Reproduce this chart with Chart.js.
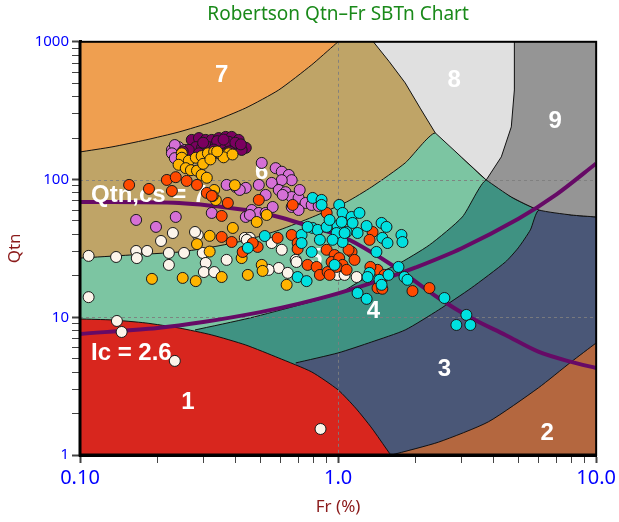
<!DOCTYPE html>
<html>
<head>
<meta charset="utf-8">
<title>SBTn chart</title>
<script src="https://cdn.jsdelivr.net/npm/chart.js@4.4.1/dist/chart.umd.min.js"></script>
<style>
  html, body { margin: 0; padding: 0; background: #fff; }
  #wrap { width: 619px; height: 522px; }
</style>
</head>
<body>
<div id="wrap"><canvas id="sbt-chart" width="619" height="522"></canvas></div>
<script>
// axis ticks
const xTickValues = [0.1, 1, 10];
const xTickLabels = ['0.10', '1.0', '10.0'];
const yTickValues = [1, 10, 100, 1000];
const yTickLabels = ['1', '10', '100', '1000'];

// zone boundaries, each point is [Fr, Qtn]
const zone1Top = [[0.1, 9.72], [0.133, 9.56], [0.18, 9.09], [0.242, 8.36], [0.324, 7.44], [0.439, 6.29], [0.589, 5.06], [0.79, 4.01], [1.0, 2.97], [1.17, 2.19], [1.35, 1.57], [1.57, 1.05], [1.6, 1.0]];
const zone2Top = [[1.61, 1.0], [2.45, 1.24], [3.82, 1.74], [5.97, 3.07], [8.0, 4.74], [10, 6.51]];
const zone3Top = [[0.685, 4.66], [1.0, 5.51], [1.35, 6.62], [1.82, 8.09], [2.45, 11.3], [3.28, 16.3], [4.45, 25.2], [4.99, 31.9], [5.56, 43.1], [6.0, 60.1], [8.0, 55.3], [10, 53.5]];
const zone4Top = [[0.279, 8.09], [0.455, 9.88], [0.71, 12.3], [1.0, 14.8], [1.244, 18.7], [1.684, 24.0], [2.26, 33.5], [3.03, 53.5], [3.75, 99.3], [4.69, 74.7], [6.0, 60.1], [8.0, 55.3], [10, 53.5]];
const zone5Top = [[0.1, 26.9], [0.156, 28.3], [0.244, 29.8], [0.327, 32.4], [0.443, 36.4], [0.594, 43.1], [0.797, 53.5], [1.08, 68.8], [1.35, 88.4], [1.82, 132], [2.38, 218], [3.0, 146], [3.75, 99.3], [4.69, 74.7], [6.0, 60.1], [8.0, 55.3], [10, 53.5]];
const zone7Bottom = [[0.1, 158.6], [0.133, 172.5], [0.18, 193.9], [0.242, 221.6], [0.324, 262], [0.439, 331], [0.589, 447], [0.79, 680], [0.978, 965], [1.0, 1000]];
const zone8Bottom = [[1.37, 1000], [1.578, 718], [1.82, 503], [2.08, 330], [2.38, 218], [3.0, 146], [3.75, 99.3], [4.29, 146], [4.69, 241], [4.82, 447], [4.82, 1000]];
const zone9Bottom = [[3.75, 99.3], [4.69, 74.7], [6.0, 60.1], [8.0, 55.3], [10, 53.5]];

// reference curves
const ic26Line = [[0.1, 7.57], [0.2, 8.37], [0.3, 9.23], [0.5, 10.9], [0.7, 12.5], [1, 14.9], [1.5, 18.9], [2, 23.0], [3, 31.6], [5, 52.0], [7, 77.7], [10, 130.8]];
const qtncs70Line = [[0.1, 68.8], [0.242, 67.6], [0.439, 60.1], [0.589, 53.5], [0.79, 45.3], [1.0, 39.6], [1.244, 32.4], [1.684, 22.8], [2.45, 13.8], [3.28, 9.88], [4.45, 7.44], [6.0, 5.6], [8.0, 4.74], [10, 4.28]];

// CPT data, [Fr, Qtn]
const whitePts = [[0.108, 27.9], [0.138, 27.4], [0.165, 30.3], [0.166, 26.9], [0.182, 30.3], [0.206, 35.8], [0.229, 40.9], [0.221, 29.3], [0.221, 24.0], [0.253, 29.3], [0.286, 39.6], [0.279, 41.6], [0.299, 29.3], [0.307, 24.8], [0.302, 21.3], [0.331, 21.3], [0.370, 26.1], [0.435, 37.7], [0.455, 37.7], [0.553, 34.6], [0.605, 30.9], [0.589, 22.8], [0.638, 21.0], [0.685, 26.1], [0.538, 22.1], [0.995, 20.3], [1.06, 20.3], [1.18, 19.6], [0.108, 14.0], [0.139, 9.4], [0.145, 7.82], [0.233, 4.82], [0.855, 1.545], [0.443, 36.5], [0.69, 25.2]];
const orchidPts = [[0.227, 164], [0.241, 172], [0.235, 146], [0.233, 178], [0.227, 155], [0.233, 143], [0.255, 164], [0.506, 132], [0.573, 121], [0.605, 114], [0.644, 108], [0.661, 99], [0.605, 99], [0.553, 94.5], [0.589, 84], [0.626, 81], [0.661, 74.7], [0.703, 73.5], [0.748, 67.6], [0.790, 65.4], [0.841, 64.3], [0.401, 88.4], [0.439, 87], [0.493, 91.4], [0.524, 77.3], [0.463, 60.1], [0.439, 53.5], [0.493, 57.2], [0.324, 57.2], [0.235, 53.5], [0.165, 50.9], [0.197, 45.3], [0.524, 57.2], [0.661, 63.2], [0.703, 60.1], [0.370, 91.4], [0.558, 63.2], [0.455, 55.3], [0.416, 84], [0.610, 77.3], [0.71, 84]];
const purplePts = [[0.271, 194], [0.289, 200], [0.307, 194], [0.324, 194], [0.345, 200], [0.367, 204], [0.387, 204], [0.412, 194], [0.439, 170], [0.281, 172], [0.297, 170], [0.315, 172], [0.336, 178], [0.354, 184], [0.377, 188], [0.400, 172], [0.423, 164], [0.264, 164], [0.289, 155], [0.324, 150], [0.367, 155], [0.25, 160], [0.34, 190], [0.36, 195], [0.30, 185], [0.33, 165], [0.40, 185], [0.42, 180], [0.38, 160]];
const goldPts = [[0.248, 155], [0.248, 144], [0.264, 137], [0.281, 144], [0.296, 148], [0.313, 155], [0.331, 159], [0.354, 150], [0.377, 155], [0.241, 128], [0.257, 121], [0.269, 117], [0.284, 116], [0.296, 108], [0.310, 103], [0.398, 91], [0.331, 84], [0.336, 71], [0.327, 76], [0.318, 39], [0.284, 34], [0.318, 30], [0.190, 19], [0.250, 19.3], [0.281, 18.3], [0.354, 19.6], [0.447, 20.3], [0.506, 24], [0.510, 21.7], [0.632, 17.2], [0.423, 26.9], [0.484, 49.2], [0.529, 55.3], [0.391, 44.5], [0.30, 130], [0.32, 140], [0.36, 145], [0.34, 160], [0.39, 152]];
const orangePts = [[0.155, 91.4], [0.185, 85.5], [0.217, 99.3], [0.235, 104], [0.259, 97.7], [0.284, 91.4], [0.227, 82.6], [0.310, 80], [0.324, 76], [0.374, 67.6], [0.354, 54.4], [0.493, 71.1], [0.667, 65.4], [0.903, 57.2], [0.354, 38.3], [0.387, 35.2], [0.488, 32.4], [0.427, 29.8], [0.467, 34.6], [0.583, 37.7], [0.661, 39.6], [0.697, 34.6], [0.697, 31.3], [0.903, 30.9], [0.969, 28.3], [0.944, 25.2], [1.01, 26.9], [1.041, 24.0], [0.762, 24.0], [0.826, 23.2], [0.85, 20.3], [0.911, 21.3], [0.987, 23.2], [1.079, 22.1], [1.128, 29.8], [1.158, 26.1], [1.36, 41.6], [1.324, 36.5], [1.422, 22.1], [1.474, 18.7], [1.422, 16.3], [1.484, 16.1], [1.942, 15.5], [2.259, 16.3], [1.098, 30.9], [1.334, 23.2], [1.513, 20.3], [0.927, 20.3]];
const cyanPts = [[0.797, 73.5], [0.863, 71.1], [0.863, 65.4], [1.01, 65.4], [1.041, 57.2], [1.128, 53.5], [1.21, 57.2], [1.138, 48.4], [1.29, 46.0], [1.474, 48.4], [1.54, 45.3], [1.484, 37.7], [1.554, 34.6], [1.76, 39.6], [1.776, 35.2], [1.408, 29.8], [0.797, 44.5], [0.833, 43.1], [0.903, 45.3], [0.995, 46.0], [0.987, 40.9], [1.079, 41.6], [1.041, 35.2], [0.952, 36.5], [0.85, 36.5], [0.722, 39.6], [0.722, 34.6], [0.79, 29.8], [0.52, 38.9], [0.447, 31.9], [0.697, 19.6], [0.755, 18.3], [0.969, 24.0], [1.324, 21.0], [1.301, 19.6], [1.447, 18.7], [1.474, 17.2], [1.568, 20.3], [1.714, 23.2], [1.808, 19.6], [1.857, 18.7], [1.19, 15.0], [1.29, 13.6], [2.582, 13.8], [2.873, 8.79], [3.141, 10.4], [3.255, 8.79], [0.762, 45.3], [1.032, 49.2], [0.927, 50.9], [1.06, 40.9], [1.19, 40.9]];

// zone numbers and curve names, anchored in data units
const zoneNames = ['1', '2', '3', '4', '5', '6', '7', '8', '9'];
const zoneNameAt = [[0.262, 2.43], [6.46, 1.445], [2.58, 4.21], [1.372, 11.1], [0.818, 26.9], [0.506, 113.6], [0.354, 566], [2.82, 529], [6.94, 266]];
const curveNames = ['Qtn,cs = 70', 'Ic = 2.6'];
const curveNameAt = [[0.1103, 77.3], [0.1103, 5.46]];

const ZONE_COLORS = {
  1: '#d8261e', 2: '#b4673f', 3: '#4a5777', 4: '#3f9282', 5: '#7cc5a2',
  6: '#bfa467', 7: '#ef9f50', 8: '#e0e0e0', 9: '#959595'
};
const CURVE_COLOR = '#660a66';
const LABEL_FONT = 'bold 24px "Liberation Sans", Arial, sans-serif';

function toXY(arr) {
  return arr.map(p => ({ x: p[0], y: p[1] }));
}

function zoneSet(label, pts, color, fill, order, tension) {
  return {
    label, data: toXY(pts), showLine: true, fill,
    backgroundColor: color, borderColor: '#111', borderWidth: 1,
    pointRadius: 0, pointHoverRadius: 0, tension, order
  };
}

function curveSet(label, pts, order) {
  return {
    label, data: toXY(pts), showLine: true, fill: false,
    borderColor: CURVE_COLOR, borderWidth: 4, pointRadius: 0,
    pointHoverRadius: 0, tension: 0.3, order
  };
}

function pointSet(label, pts, color, order) {
  return {
    label, data: toXY(pts), showLine: false,
    backgroundColor: color, borderColor: '#1a1a1a', borderWidth: 1,
    pointRadius: 5.5, pointHoverRadius: 5.5, order
  };
}

function decadeLabel(values, labels) {
  return function (value) {
    const i = values.findIndex(v => Math.abs(v - value) / v < 1e-6);
    return i >= 0 ? labels[i] : '';
  };
}

// keep only 1..9 x 10^n ticks
function keepWholeSteps(scale) {
  scale.ticks = scale.ticks.filter(t => {
    const e = Math.floor(Math.log10(t.value) + 1e-9);
    const m = t.value / Math.pow(10, e);
    return Math.abs(m - Math.round(m)) < 1e-6;
  });
}

function drawGrid(chart) {
  const { ctx, chartArea: a, scales: { x, y } } = chart;
  ctx.save();
  ctx.strokeStyle = 'rgba(125,125,125,0.9)';
  ctx.lineWidth = 1;
  ctx.setLineDash([3, 3]);
  xTickValues.slice(1, -1).forEach(v => {
    const px = Math.round(x.getPixelForValue(v)) + 0.5;
    ctx.beginPath(); ctx.moveTo(px, a.top); ctx.lineTo(px, a.bottom); ctx.stroke();
  });
  yTickValues.slice(1, -1).forEach(v => {
    const py = Math.round(y.getPixelForValue(v)) + 0.5;
    ctx.beginPath(); ctx.moveTo(a.left, py); ctx.lineTo(a.right, py); ctx.stroke();
  });
  ctx.restore();
}

function drawNames(chart) {
  const { ctx, scales: { x, y } } = chart;
  ctx.save();
  ctx.fillStyle = '#fff';
  ctx.font = LABEL_FONT;
  ctx.textBaseline = 'middle';
  ctx.textAlign = 'center';
  zoneNames.forEach((t, i) => {
    ctx.fillText(t, x.getPixelForValue(zoneNameAt[i][0]), y.getPixelForValue(zoneNameAt[i][1]));
  });
  ctx.textAlign = 'left';
  curveNames.forEach((t, i) => {
    ctx.fillText(t, x.getPixelForValue(curveNameAt[i][0]), y.getPixelForValue(curveNameAt[i][1]));
  });
  ctx.restore();
}

const sbtPlugin = {
  id: 'sbtLayers',
  beforeDatasetsDraw(chart) {
    const { ctx, chartArea: a } = chart;
    ctx.save();
    ctx.fillStyle = ZONE_COLORS[6];
    ctx.fillRect(a.left, a.top, a.right - a.left, a.bottom - a.top);
    ctx.restore();
  },
  beforeDatasetDraw(chart, args) {
    const label = chart.data.datasets[args.index].label;
    if (label === 'Ic = 2.6') drawGrid(chart);
    if (label === 'white') drawNames(chart);
  },
  afterDatasetsDraw(chart) {
    const { ctx, chartArea: a } = chart;
    ctx.save();
    ctx.strokeStyle = '#000';
    ctx.lineWidth = 2;
    ctx.strokeRect(a.left, a.top, a.right - a.left, a.bottom - a.top);
    ctx.lineWidth = 3;
    ctx.beginPath();
    ctx.moveTo(a.left, a.top); ctx.lineTo(a.left, a.bottom); ctx.lineTo(a.right, a.bottom);
    ctx.stroke();
    ctx.restore();
  }
};

const datasets = [
  pointSet('cyan', cyanPts, '#00e0e0', 1),
  pointSet('orange', orangePts, '#ff4a00', 2),
  pointSet('gold', goldPts, '#ffb400', 3),
  pointSet('purple', purplePts, '#7b0060', 4),
  pointSet('orchid', orchidPts, '#d670d6', 5),
  pointSet('white', whitePts, '#fcf4ea', 6),
  curveSet('Qtn,cs = 70', qtncs70Line, 10),
  curveSet('Ic = 2.6', ic26Line, 11),
  zoneSet('zone 7', zone7Bottom, ZONE_COLORS[7], 'end', 20, 0.2),
  zoneSet('zone 8', zone8Bottom, ZONE_COLORS[8], 'end', 21, 0),
  zoneSet('zone 9', zone9Bottom, ZONE_COLORS[9], 'end', 22, 0.2),
  zoneSet('zone 2', zone2Top, ZONE_COLORS[2], 'start', 23, 0.2),
  zoneSet('zone 1', zone1Top, ZONE_COLORS[1], 'start', 24, 0.2),
  zoneSet('zone 3', zone3Top, ZONE_COLORS[3], 'start', 25, 0.2),
  zoneSet('zone 4', zone4Top, ZONE_COLORS[4], 'start', 26, 0.2),
  zoneSet('zone 5', zone5Top, ZONE_COLORS[5], 'start', 27, 0.2)
];

const FONT = '"Noto Sans", "Open Sans", Arial, sans-serif';

new Chart(document.getElementById('sbt-chart'), {
  type: 'scatter',
  data: { datasets },
  options: {
    responsive: false,
    animation: false,
    events: [],
    layout: { padding: { left: 0, right: 22, top: 0, bottom: 0 } },
    plugins: {
      legend: { display: false },
      tooltip: { enabled: false },
      title: {
        display: true,
        text: 'Robertson Qtn–Fr SBTn Chart',
        color: '#1a8a1a',
        fullSize: false,
        font: { family: FONT, size: 19, weight: 'normal' },
        padding: { top: 3, bottom: 16 }
      }
    },
    scales: {
      x: {
        type: 'logarithmic',
        position: 'bottom',
        min: 0.1,
        max: 10,
        afterBuildTicks: keepWholeSteps,
        afterFit(scale) { scale.height = 67; },
        border: { display: true, color: '#000', width: 3 },
        grid: {
          drawOnChartArea: false, drawTicks: true, tickLength: 8, tickColor: '#444',
          tickWidth: ctx => (ctx.tick && ctx.tick.major ? 2 : 1)
        },
        ticks: {
          autoSkip: false, maxRotation: 0, color: '#0000ff', padding: 3,
          font: { family: FONT, size: 20 },
          callback: decadeLabel(xTickValues, xTickLabels)
        },
        title: {
          display: true, text: 'Fr (%)', color: '#8b1a1a',
          font: { family: FONT, size: 17 }, padding: { top: 2, bottom: 5 }
        }
      },
      y: {
        type: 'logarithmic',
        position: 'left',
        min: 1,
        max: 1000,
        afterBuildTicks: keepWholeSteps,
        afterFit(scale) { scale.width = 80; },
        border: { display: true, color: '#000', width: 3 },
        grid: {
          drawOnChartArea: false, drawTicks: true, tickLength: 8, tickColor: '#444',
          tickWidth: ctx => (ctx.tick && ctx.tick.major ? 2 : 1)
        },
        ticks: {
          autoSkip: false, color: '#0000ff', padding: 3,
          font: { family: FONT, size: 15 },
          callback: decadeLabel(yTickValues, yTickLabels)
        },
        title: {
          display: true, text: 'Qtn', color: '#8b1a1a',
          font: { family: FONT, size: 17 }, padding: { top: 5, bottom: 2 }
        }
      }
    }
  },
  plugins: [sbtPlugin]
});
</script>
</body>
</html>
